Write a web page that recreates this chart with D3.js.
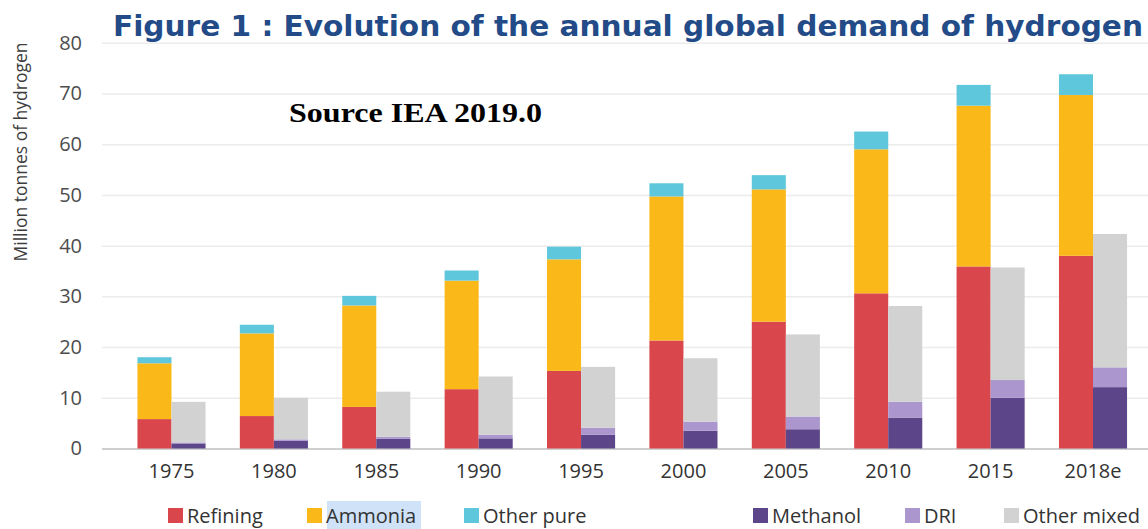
<!DOCTYPE html>
<html>
<head>
<meta charset="utf-8">
<script src="https://cdn.jsdelivr.net/npm/d3@7"></script>
<style>
  html, body { margin: 0; padding: 0; background: #fff; }
  svg { display: block; }
</style>
</head>
<body>
<svg id="chart" width="1148" height="529"></svg>
<script>
// ---- data (million tonnes of hydrogen) ----
const years      = ['1975','1980','1985','1990','1995','2000','2005','2010','2015','2018e'];
// pure hydrogen stack
const refining   = [5.8, 6.4, 8.2, 11.7, 15.3, 21.3, 25.0, 30.6, 35.9, 38.0];
const ammonia    = [11.0, 16.3, 20.0, 21.4, 22.0, 28.4, 26.1, 28.4, 31.7, 31.7];
const otherPure  = [1.2, 1.7, 1.9, 2.0, 2.5, 2.6, 2.8, 3.5, 4.1, 4.1];
// mixed hydrogen stack
const methanol   = [1.0, 1.5, 1.9, 2.0, 2.7, 3.5, 3.8, 6.1, 10.0, 12.1];
const dri        = [0.2, 0.3, 0.4, 0.7, 1.4, 1.8, 2.5, 3.1, 3.5, 3.9];
const otherMixed = [8.0, 8.2, 8.9, 11.5, 12.0, 12.5, 16.2, 18.9, 22.2, 26.3];
const yTicks     = [0, 10, 20, 30, 40, 50, 60, 70, 80];

const pureSeries  = [
  {name: 'Refining',    values: refining,   color: '#d9474c'},
  {name: 'Ammonia',     values: ammonia,    color: '#fbb819'},
  {name: 'Other pure',  values: otherPure,  color: '#5fc7dc'}
];
const mixedSeries = [
  {name: 'Methanol',    values: methanol,   color: '#5c4588'},
  {name: 'DRI',         values: dri,        color: '#ab96cd'},
  {name: 'Other mixed', values: otherMixed, color: '#d2d2d2'}
];

// ---- layout ----
const svg = d3.select('#chart');
const plotLeft = 102, plotRight = 1148;
const y = d3.scaleLinear().domain([0, 80]).range([448.5, 42.8]);
const x = d3.scaleBand().domain(years).range([120.3, 1144.2]).paddingInner(0.335).paddingOuter(0.1675);
const half = x.bandwidth() / 2;
const sans = "'Open Sans', 'Noto Sans', sans-serif";

// gridlines
const grid = svg.append('g')
  .attr('transform', `translate(${plotLeft},0)`)
  .call(d3.axisLeft(y).tickValues(yTicks).tickSize(-(plotRight - plotLeft)).tickFormat(''));
grid.select('.domain').remove();
grid.selectAll('.tick line').attr('stroke', d => d === 0 ? '#cfcfcf' : '#ececec').attr('stroke-width', d => d === 0 ? 2 : 1.5);

// y tick labels
const yAxis = svg.append('g')
  .attr('transform', 'translate(82,0)')
  .call(d3.axisLeft(y).tickValues(yTicks).tickSize(0).tickPadding(0));
yAxis.select('.domain').remove();
yAxis.selectAll('text').attr('font-family', sans).attr('font-size', 20).attr('fill', '#4d4d4d');

// x tick labels
const xAxis = svg.append('g')
  .attr('transform', 'translate(0,464)')
  .call(d3.axisBottom(x).tickSize(0).tickPadding(0));
xAxis.select('.domain').remove();
xAxis.selectAll('text').attr('font-family', sans).attr('font-size', 20).attr('fill', '#333');

// stacks
function drawStack(series, offset) {
  const rows = years.map((yr, i) => {
    const r = {year: yr};
    series.forEach(s => r[s.name] = s.values[i]);
    return r;
  });
  const stacked = d3.stack().keys(series.map(s => s.name))(rows);
  svg.append('g').selectAll('g').data(stacked).join('g')
    .attr('fill', (d, i) => series[i].color)
    .selectAll('rect').data(d => d).join('rect')
      .attr('x', d => x(d.data.year) + offset)
      .attr('width', half)
      .attr('y', d => y(d[1]))
      .attr('height', d => y(d[0]) - y(d[1]));
}
drawStack(pureSeries, 0);
drawStack(mixedSeries, half);

// y axis title
svg.append('text')
  .attr('transform', 'translate(27,152) rotate(-90)')
  .attr('text-anchor', 'middle')
  .attr('font-family', sans).attr('font-size', 17.5).attr('fill', '#3d3d3d')
  .text('Million tonnes of hydrogen');

// title
svg.append('text')
  .attr('x', 113).attr('y', 36)
  .attr('font-family', "'DejaVu Sans', Verdana, sans-serif").attr('font-weight', 'bold')
  .attr('font-size', 28).attr('fill', '#234b88')
  .attr('textLength', 1030).attr('lengthAdjust', 'spacingAndGlyphs')
  .text('Figure 1 : Evolution of the annual global demand of hydrogen');

// source note
svg.append('text')
  .attr('x', 289).attr('y', 122)
  .attr('font-family', "'Liberation Serif', 'DejaVu Serif', serif").attr('font-weight', 'bold')
  .attr('font-size', 27).attr('fill', '#000')
  .attr('textLength', 253).attr('lengthAdjust', 'spacingAndGlyphs')
  .text('Source IEA 2019.0');

// legend
const legendItems = pureSeries.concat(mixedSeries);
const legendX = [168, 307, 464, 753, 905, 1004];
const lg = svg.append('g');
// selection highlight behind "Ammonia"
lg.append('rect').attr('x', 327).attr('y', 501).attr('width', 94).attr('height', 28).attr('fill', '#cfe2f8');
legendItems.forEach((s, i) => {
  lg.append('rect').attr('x', legendX[i]).attr('y', 508).attr('width', 15).attr('height', 15).attr('fill', s.color);
  lg.append('text').attr('x', legendX[i] + 19).attr('y', 516).attr('dy', '0.35em')
    .attr('font-family', sans).attr('font-size', 20).attr('fill', '#333')
    .text(s.name);
});
</script>
</body>
</html>
